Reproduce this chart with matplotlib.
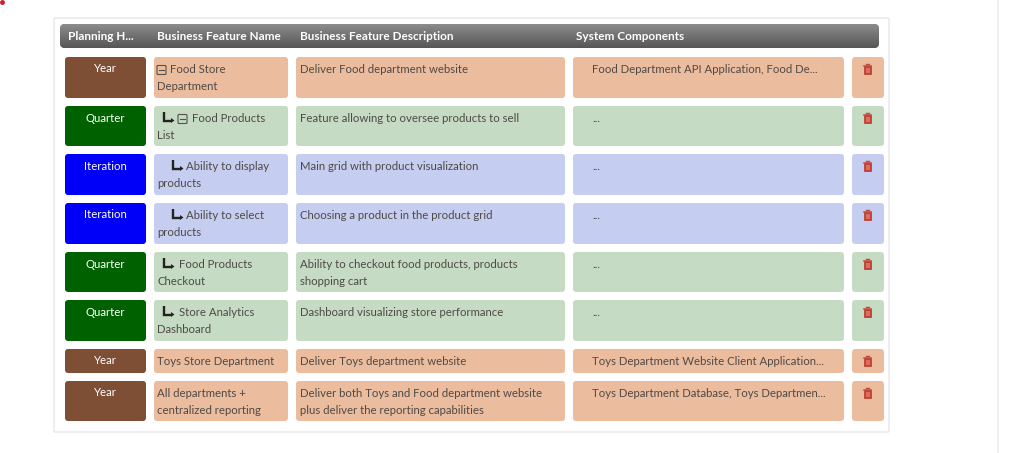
import matplotlib
matplotlib.use('Agg')
import matplotlib.pyplot as plt
import numpy as np
from matplotlib.patches import FancyBboxPatch, Rectangle

# table content
headers = ['Planning H...', 'Business Feature Name', 'Business Feature Description', 'System Components']
horizons = ['Year', 'Quarter', 'Iteration', 'Iteration', 'Quarter', 'Quarter', 'Year', 'Year']
name_first = ['Food Store', 'Food Products', 'Ability to display', 'Ability to select',
              'Food Products', 'Store Analytics', 'Toys Store Department', 'All departments +']
name_second = ['Department', 'List', 'products', 'products', 'Checkout', 'Dashboard', '', 'centralized reporting']
indent_levels = [0, 1, 2, 2, 1, 1, 0, 0]
has_collapse = [True, True, False, False, False, False, False, False]
has_arrow = [False, True, True, True, True, True, False, False]
descriptions = [
    'Deliver Food department website',
    'Feature allowing to oversee products to sell',
    'Main grid with product visualization',
    'Choosing a product in the product grid',
    'Ability to checkout food products, products\nshopping cart',
    'Dashboard visualizing store performance',
    'Deliver Toys department website',
    'Deliver both Toys and Food department website\nplus deliver the reporting capabilities',
]
components = [
    'Food Department API Application, Food De...', '...', '...', '...', '...', '...',
    'Toys Department Website Client Application...',
    'Toys Department Database, Toys Departmen...',
]

# colours per planning horizon
horizon_colors = {'Year': '#7f4f35', 'Quarter': '#006100', 'Iteration': '#0000fa'}
cell_colors = {'Year': '#ecbc9f', 'Quarter': '#c5dbc3', 'Iteration': '#c5cdf0'}

# layout, in pixels
row_tops = [57, 106, 154, 203, 252, 300, 349, 381]
row_bottoms = [98, 146, 195, 244, 292, 341, 373, 421]
col_lefts = [65, 154, 296, 573, 852]
col_rights = [146, 288, 565, 844, 884]
header_x = [68, 157, 300, 576]
TEXT = '#4f4a46'
FS = 8.2
FS_HEADER = 8.5

plt.rcParams['font.family'] = ['Lato', 'DejaVu Sans']

figure, axe = plt.subplots(figsize=(10.24, 4.53), dpi=100)
figure.subplots_adjust(0, 0, 1, 1)
axe.set_xlim(0, 1024)
axe.set_ylim(453, 0)
axe.axis('off')


def box(left, right, top, bottom, color, radius=3, edge='none', zorder=2):
    patch = FancyBboxPatch((left + radius, top + radius), right - left - 2*radius, bottom - top - 2*radius,
                           boxstyle=f'round,pad={radius}', fc=color, ec=edge, lw=0.8, zorder=zorder)
    axe.add_patch(patch)
    return patch


def trash(cx, cy):
    axe.add_patch(Rectangle((cx - 3, cy - 2.5), 6, 7, fc='#d9705f', ec='#bf3f33', lw=1.3, zorder=4))
    axe.plot([cx - 3.5, cx + 3.5], [cy - 3.5, cy - 3.5], color='#c4493c', lw=1.1, zorder=4)
    axe.plot([cx - 1.5, cx + 1.5], [cy - 4.8, cy - 4.8], color='#c4493c', lw=1, zorder=4)


def tree_arrow(x, y):
    axe.plot([x, x, x + 7], [y - 6, y + 3, y + 3], color='#222222', lw=1.7, zorder=4,
             solid_joinstyle='miter', solid_capstyle='butt')
    axe.fill([x + 7, x + 10.5, x + 7], [y + 0.5, y + 3, y + 5.5], color='#222222', lw=0, zorder=4)


def collapse_icon(x, y):
    axe.add_patch(FancyBboxPatch((x + 1, y - 3.5), 7, 7, boxstyle='round,pad=1', fc='none',
                                 ec='#55504c', lw=0.8, zorder=4))
    axe.plot([x + 2, x + 7], [y, y], color='#55504c', lw=0.8, zorder=4)


# page furniture
axe.plot([998, 998], [0, 453], color='#efefef', lw=1.2)
axe.plot([1.5], [1.5], 'o', ms=2.5, color='#c8202a', clip_on=False)
box(54, 889, 18, 432, 'white', radius=1, edge='#e3e0e3', zorder=1)

# header with gradient
header = box(60, 879, 24, 48, '#777777', radius=5)
gradient = np.linspace(0, 1, 64).reshape(-1, 1)
image = axe.imshow(gradient, extent=(60, 879, 48, 24), aspect='auto', zorder=2.5,
                   cmap=matplotlib.colors.LinearSegmentedColormap.from_list('h', ['#8c8c8c', '#565656']))
image.set_clip_path(header)
axe.set_xlim(0, 1024)
axe.set_ylim(453, 0)
for x, label in zip(header_x, headers):
    axe.text(x, 37, label, color='white', fontsize=FS_HEADER, fontweight='bold', va='center', ha='left', zorder=3)

# rows
for i, horizon in enumerate(horizons):
    top, bottom = row_tops[i], row_bottoms[i]
    line1, line2 = top + 12.5, top + 29.5
    cell = cell_colors[horizon]

    box(col_lefts[0], col_rights[0], top, bottom, horizon_colors[horizon])
    axe.text((col_lefts[0] + col_rights[0])/2, line1 - 0.5, horizon, color='white', fontsize=FS,
             ha='center', va='center', zorder=3)
    for c in range(1, 5):
        box(col_lefts[c], col_rights[c], top, bottom, cell)

    # name column, first line starts after its tree icons
    x = 157
    if has_arrow[i]:
        x = 164 if indent_levels[i] == 1 else 173
        tree_arrow(x, line1 - 1)
        x += 15 if indent_levels[i] == 1 else 13
    if has_collapse[i]:
        collapse_icon(x - 1 if has_arrow[i] else x, line1 + 0.5)
        x += 13
    axe.text(x, line1, name_first[i], color=TEXT, fontsize=FS, ha='left', va='center', zorder=3)
    if name_second[i]:
        axe.text(157, line2, name_second[i], color=TEXT, fontsize=FS, ha='left', va='center', zorder=3)

    # description, one or two lines
    for j, part in enumerate(descriptions[i].split('\n')):
        axe.text(299.5, line1 + 17*j, part, color=TEXT, fontsize=FS, ha='left', va='center', zorder=3)

    axe.text(592, line1, components[i], color=TEXT, fontsize=FS, ha='left', va='center', zorder=3)
    trash(867.5, line1 - 0.5)

figure.savefig('out.png', dpi=100)
